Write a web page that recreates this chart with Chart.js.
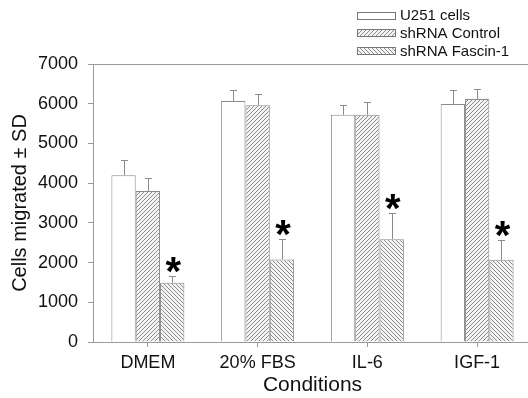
<!DOCTYPE html>
<html>
<head>
<meta charset="utf-8">
<script src="https://cdn.jsdelivr.net/npm/chart.js@4/dist/chart.umd.min.js"></script>
<style>
html,body{margin:0;padding:0;background:#fff;overflow:hidden;}
#wrap{width:532px;height:398px;position:relative;}
</style>
</head>
<body>
<div id="wrap"><canvas id="c" width="532" height="398"></canvas></div>
<script>
const categories = ['DMEM', '20% FBS', 'IL-6', 'IGF-1'];
const seriesNames = ['U251 cells', 'shRNA Control', 'shRNA Fascin-1'];
const u251 = [4200, 6070, 5720, 5990];
const u251Err = [390, 285, 250, 360];
const ctrl = [3800, 5960, 5720, 6120];
const ctrlErr = [320, 285, 335, 250];
const fascin = [1490, 2080, 2590, 2070];
const fascinErr = [170, 505, 670, 505];
const fascinStar = [true, true, true, true];
const yTicks = [0, 1000, 2000, 3000, 4000, 5000, 6000, 7000];
const yTickLabels = ['0', '1000', '2000', '3000', '4000', '5000', '6000', '7000'];

const FONT = "'Liberation Sans', Arial, sans-serif";
const AXIS = '#9a9a9a';
const EDGE = '#8a8a8a';

function hatch(dir) {
  const s = 4;
  const c = document.createElement('canvas');
  c.width = s; c.height = s;
  const g = c.getContext('2d');
  g.fillStyle = '#f4f4f4';
  g.fillRect(0, 0, s, s);
  g.strokeStyle = '#8c8c8c';
  g.lineWidth = 1;
  g.beginPath();
  if (dir === '/') {
    for (let k = 0; k <= 2; k++) {
      const cc = k * s;
      g.moveTo(cc + 1, -1); g.lineTo(-1, cc + 1);
    }
  } else {
    for (let k = -1; k <= 1; k++) {
      const cc = k * s;
      g.moveTo(cc - 1, -1); g.lineTo(cc + s + 1, s + 1);
    }
  }
  g.stroke();
  return g.createPattern(c, 'repeat');
}
const fills = ['#ffffff', hatch('/'), hatch('\\')];

const errs = [u251Err, ctrlErr, fascinErr];
const stars = [null, null, fascinStar];

const extras = {
  id: 'extras',
  afterDatasetsDraw(chart) {
    const ctx = chart.ctx;
    const y = chart.scales.y;
    ctx.save();
    chart.data.datasets.forEach((ds, di) => {
      const meta = chart.getDatasetMeta(di);
      meta.data.forEach((bar, i) => {
        const top = ds.data[i] + errs[di][i];
        const yt = y.getPixelForValue(top);
        const yb = y.getPixelForValue(ds.data[i]);
        const x = Math.round(bar.x) + 0.5;
        ctx.strokeStyle = EDGE;
        ctx.lineWidth = 1;
        ctx.beginPath();
        ctx.moveTo(x, yb);
        ctx.lineTo(x, Math.round(yt) + 0.5);
        ctx.moveTo(x - 3.5, Math.round(yt) + 0.5);
        ctx.lineTo(x + 3.5, Math.round(yt) + 0.5);
        ctx.stroke();
        if (stars[di] && stars[di][i]) {
          ctx.fillStyle = '#000';
          ctx.font = 'bold 40px ' + FONT;
          ctx.textAlign = 'center';
          ctx.textBaseline = 'alphabetic';
          const m = ctx.measureText('*');
          const cy = yt - 11;
          const by = cy + (m.actualBoundingBoxAscent - m.actualBoundingBoxDescent) / 2;
          ctx.fillText('*', bar.x + 1, by);
        }
      });
    });
    ctx.restore();
  },
  afterDraw(chart) {
    const ctx = chart.ctx;
    ctx.save();
    const bx = 357, bw = 38, bh = 7, tx = 400;
    const rows = [15, 32.5, 50.5];
    seriesNames.forEach((name, i) => {
      const cy = rows[i];
      ctx.fillStyle = fills[i];
      ctx.fillRect(bx, cy - bh / 2, bw, bh);
      ctx.strokeStyle = '#777';
      ctx.lineWidth = 1;
      ctx.strokeRect(bx + 0.5, Math.round(cy - bh / 2) + 0.5, bw, bh);
      ctx.fillStyle = '#111';
      ctx.font = '15px ' + FONT;
      ctx.textAlign = 'left';
      ctx.textBaseline = 'middle';
      ctx.fillText(name, tx, cy + 1);
    });
    ctx.restore();
  }
};

new Chart(document.getElementById('c'), {
  type: 'bar',
  data: {
    labels: categories,
    datasets: [
      { label: seriesNames[0], data: u251, backgroundColor: fills[0], borderColor: EDGE, borderWidth: 1 },
      { label: seriesNames[1], data: ctrl, backgroundColor: fills[1], borderColor: EDGE, borderWidth: 1 },
      { label: seriesNames[2], data: fascin, backgroundColor: fills[2], borderColor: EDGE, borderWidth: 1 }
    ]
  },
  options: {
    responsive: false,
    animation: false,
    devicePixelRatio: 1,
    categoryPercentage: 0.665,
    barPercentage: 1.0,
    layout: { padding: { top: 64, left: 0, right: 0, bottom: 0 } },
    plugins: { legend: { display: false }, tooltip: { enabled: false } },
    scales: {
      x: {
        offset: true,
        grid: { offset: false, color: 'rgba(0,0,0,0)', tickColor: AXIS, tickLength: 5, drawOnChartArea: false },
        border: { display: true, color: AXIS, width: 1 },
        ticks: { color: '#111', font: { family: FONT, size: 18 }, padding: 5 },
        title: { display: true, text: 'Conditions', color: '#111', font: { family: FONT, size: 21 }, padding: 0 },
        afterFit(scale) { scale.height = 56; }
      },
      y: {
        min: 0, max: 7000,
        afterBuildTicks(scale) { scale.ticks = yTicks.map(v => ({ value: v })); },
        grid: {
          color: (c) => (c.tick && c.tick.value === 7000 ? AXIS : 'rgba(0,0,0,0)'),
          tickColor: AXIS, tickLength: 5
        },
        border: { display: true, color: AXIS, width: 1 },
        ticks: {
          color: '#111', font: { family: FONT, size: 18 }, padding: 10,
          callback: (v) => yTickLabels[yTicks.indexOf(v)]
        },
        title: { display: true, text: 'Cells migrated ± SD', color: '#111', font: { family: FONT, size: 20 }, padding: { top: 8, bottom: 0 } },
        afterFit(scale) { scale.width = 93; }
      }
    }
  },
  plugins: [extras]
});
</script>
</body>
</html>
